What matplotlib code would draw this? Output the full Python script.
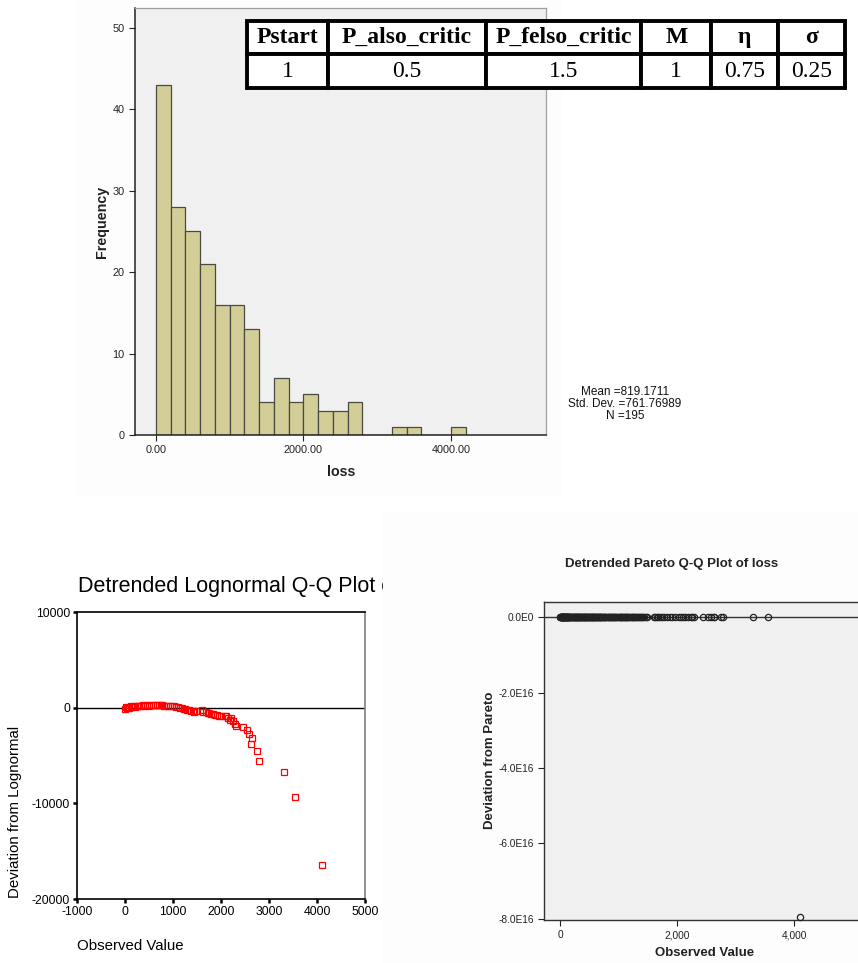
import numpy as np
import matplotlib
matplotlib.use("Agg")
import matplotlib.pyplot as plt
from matplotlib.patches import Rectangle
from matplotlib.transforms import Bbox, TransformedBbox

plt.rcParams['font.family'] = ['Liberation Sans', 'DejaVu Sans']
plt.rcParams['axes.unicode_minus'] = False

# loss values (sorted), N = 195
loss = [
    3, 8, 12, 15, 19, 22, 26, 30, 33, 37, 41, 45, 48, 52, 56, 60, 63, 67, 71, 75,
    79, 83, 87, 91, 95, 99, 103, 108, 112, 117, 121, 126, 131, 136, 141, 146, 151,
    157, 163, 170, 177, 185, 193,
    206, 213, 219, 226, 232, 239, 245, 252, 259, 266, 273, 280, 287, 294, 301, 308,
    315, 322, 329, 336, 343, 350, 357, 364, 371, 378, 386, 394,
    403, 410, 419, 426, 435, 444, 451, 458, 467, 476, 483, 490, 499, 508, 515, 522,
    531, 540, 547, 554, 563, 572, 579, 586, 595,
    604, 612, 621, 629, 638, 646, 655, 664, 672, 681, 690, 699, 708, 717, 726, 735,
    745, 755, 765, 776, 788,
    806, 818, 829, 841, 852, 864, 875, 887, 898, 910, 921, 933, 944, 956, 970, 985,
    1008, 1019, 1031, 1043, 1055, 1067, 1079, 1091, 1104, 1116, 1128, 1141, 1153,
    1166, 1178, 1192,
    1211, 1226, 1240, 1255, 1270, 1284, 1299, 1314, 1329, 1345, 1361, 1377, 1393,
    1418, 1436, 1462, 1488,
    1608, 1625, 1652, 1681, 1712, 1745, 1772,
    1832, 1878, 1915, 1968,
    2035, 2068, 2110, 2142, 2188,
    2236, 2262, 2295,
    2448, 2538, 2587,
    2629, 2636, 2754, 2782,
    3303, 3547, 4096,
]
bin_edges = np.arange(0, 4400, 200)

mean_txt = "Mean =819.1711"
std_txt = "Std. Dev. =761.76989"
n_txt = "N =195"

# detrended lognormal Q-Q points
ln_obs = [0, 20, 40, 60, 90, 120, 150, 180, 210, 240, 270, 300, 340, 380, 420,
          460, 500, 540, 580, 620, 660, 700, 740, 780, 820, 860, 900, 940, 980,
          1020, 1060, 1100, 1140, 1180, 1220, 1260, 1300, 1340, 1380, 1420, 1440,
          1480, 1610, 1627, 1680, 1720, 1760, 1800, 1840, 1880, 1920, 1960, 2000,
          2090, 2114, 2149, 2184, 2210, 2253, 2288, 2309, 2448, 2538, 2587, 2636,
          2629, 2754, 2782, 3303, 3547, 4096]
ln_dev = [-100, 50, -50, 100, 0, 150, 80, 180, 120, 200, 150, 220, 180, 240, 200,
          250, 220, 260, 230, 260, 240, 250, 230, 240, 220, 210, 200, 190, 160,
          130, 90, 50, 0, -50, -100, -150, -200, -250, -300, -360, -420,
          -380, -250, -450, -500, -550, -600, -650, -700, -720, -800, -850, -900,
          -850, -870, -1050, -1260, -1100, -1400, -1700, -1900, -2000, -2380, -2730,
          -3150, -3780, -4480, -5560, -6680, -9340, -16400]

# detrended Pareto Q-Q deviations (all on the zero line except the maximum)
pareto_dev = [0.0] * (len(loss) - 1) + [-7.95e16]

# parameter table
col_labels = ["Pstart", "P_also_critic", "P_felso_critic", "M", "η", "σ"]
row_vals = ["1", "0.5", "1.5", "1", "0.75", "0.25"]
col_widths = [81, 158, 156, 70, 67, 67]

W, H = 858, 963
fig = plt.figure(figsize=(W / 100, H / 100), dpi=100)


def px_box(x0, y0, x1, y1):
    return [x0 / W, 1 - y1 / H, (x1 - x0) / W, (y1 - y0) / H]


# faint panel backgrounds
fig.patches.append(Rectangle((77 / W, 1 - 494 / H), (560 - 77) / W, 494 / H,
                             transform=fig.transFigure, color='#fdfdfd', zorder=-5))
fig.patches.append(Rectangle((383 / W, 0), (W - 383) / W, (H - 513) / H,
                             transform=fig.transFigure, color='#fdfdfd', zorder=-5))

# ---------------- histogram ----------------
ax1 = fig.add_axes(px_box(135, 8, 546, 435))
ax1.set_facecolor('#f0f0f0')
ax1.hist(loss, bins=bin_edges, color='#d3ce97', edgecolor='#4a4a40', linewidth=0.9)
ax1.set_xlim(-285, 5290)
ax1.set_ylim(0, 52.4)
ax1.set_xticks([0, 2000, 4000])
ax1.set_xticklabels(['0.00', '2000.00', '4000.00'])
ax1.set_yticks([0, 10, 20, 30, 40, 50])
ax1.tick_params(labelsize=7.8, length=4, width=0.8, colors='#222222')
for s in ['left', 'bottom']:
    ax1.spines[s].set_color('#222222')
    ax1.spines[s].set_linewidth(1.1)
for s in ['top', 'right']:
    ax1.spines[s].set_color('#a0a0a0')
    ax1.spines[s].set_linewidth(0.9)
fig.text(102 / W, 1 - 222 / H, 'Frequency', rotation=90, fontsize=10.3,
         fontweight='bold', ha='center', va='center', color='#222222')
fig.text(341 / W, 1 - 472 / H, 'loss', fontsize=10.3, fontweight='bold',
         ha='center', va='center', color='#222222')
fig.text(625 / W, 1 - 404 / H, mean_txt + "\n" + std_txt + "\n" + n_txt,
         fontsize=8.5, ha='center', va='center', linespacing=0.95, color='#111111')

# ---------------- parameter table ----------------
axt = fig.add_axes(px_box(247, 21, 246 + sum(col_widths), 88))
axt.axis('off')
axt.set_zorder(10)
tw = np.array(col_widths) / sum(col_widths)
tbl = axt.table(cellText=[row_vals], colLabels=col_labels, colWidths=tw,
                bbox=[0, 0, 1, 1], cellLoc='center')
tbl.auto_set_font_size(False)
for (r, c), cell in tbl.get_celld().items():
    cell.set_linewidth(2.8)
    cell.set_edgecolor('black')
    cell.set_facecolor('white')
    txt = cell.get_text()
    txt.set_fontfamily(['Liberation Serif', 'DejaVu Serif'])
    txt.set_fontsize(17)
    if r == 0:
        txt.set_fontweight('bold')

# ---------------- detrended lognormal Q-Q ----------------
ax2 = fig.add_axes(px_box(77, 612, 365, 899))
ax2.set_facecolor('white')
ax2.axhline(0, color='black', linewidth=1.0, zorder=1)
ax2.plot(ln_obs, ln_dev, linestyle='none', marker='s', markersize=4.2,
         markerfacecolor='none', markeredgecolor='#ff0000', markeredgewidth=0.9,
         zorder=3)
ax2.set_xlim(-1000, 5000)
ax2.set_ylim(-20000, 10000)
ax2.set_xticks(range(-1000, 5001, 1000))
ax2.set_yticks([10000, 0, -10000, -20000])
ax2.tick_params(labelsize=8.8, length=3, width=1.8, colors='black', pad=2)
for s in ['left', 'bottom', 'top']:
    ax2.spines[s].set_color('black')
    ax2.spines[s].set_linewidth(1.2)
ax2.spines['right'].set_color('#808080')
ax2.spines['right'].set_linewidth(1.2)
fig.text(15 / W, 1 - 812 / H, 'Deviation from Lognormal', rotation=90,
         fontsize=10.8, ha='center', va='center')
fig.text(77 / W, 1 - 946 / H, 'Observed Value', fontsize=10.8,
         ha='left', va='center')
title2 = fig.text(78 / W, 1 - 586 / H, 'Detrended Lognormal Q-Q Plot of loss',
                  fontsize=15.5, ha='left', va='center')
title2.set_clip_box(TransformedBbox(Bbox([[0, 0], [383 / W, 1]]), fig.transFigure))
title2.set_clip_on(True)

# ---------------- detrended Pareto Q-Q ----------------
ax3 = fig.add_axes(px_box(544, 602, 870, 920))
ax3.set_facecolor('#f0f0f0')
ax3.axhline(0, color='#333333', linewidth=1.0, zorder=1)
ax3.plot(loss, pareto_dev, linestyle='none', marker='o', markersize=4.5,
         markerfacecolor='none', markeredgecolor='#222222', markeredgewidth=0.9,
         zorder=3, clip_on=False)
ax3.set_xlim(-274, 5299)
ax3.set_ylim(-8.03e16, 0.4e16)
ax3.set_xticks([0, 2000, 4000])
ax3.set_xticklabels(['0', '2,000', '4,000'])
ax3.set_yticks([0, -2e16, -4e16, -6e16, -8e16])
ax3.set_yticklabels(['0.0E0', '-2.0E16', '-4.0E16', '-6.0E16', '-8.0E16'])
ax3.tick_params(labelsize=7.3, length=4, width=0.8, colors='#222222')
for s in ax3.spines.values():
    s.set_color('#333333')
    s.set_linewidth(1.0)
fig.text(672 / W, 1 - 564 / H, 'Detrended Pareto Q-Q Plot of loss', fontsize=9.5,
         fontweight='bold', ha='center', va='center', color='#222222')
fig.text(490 / W, 1 - 760 / H, 'Deviation from Pareto', rotation=90, fontsize=9.5,
         fontweight='bold', ha='center', va='center', color='#222222')
fig.text(705 / W, 1 - 953 / H, 'Observed Value', fontsize=9.5,
         fontweight='bold', ha='center', va='center', color='#222222')

fig.savefig('out.png', dpi=100)
